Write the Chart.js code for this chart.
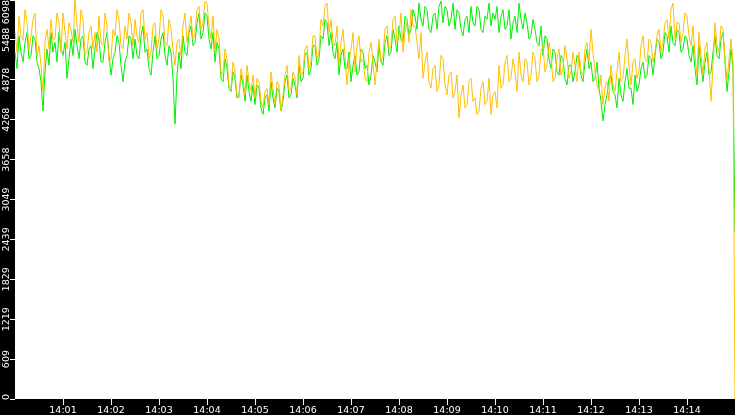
<!DOCTYPE html>
<html>
<head>
<meta charset="utf-8">
<script src="https://cdn.jsdelivr.net/npm/chart.js@4.4.1/dist/chart.umd.min.js"></script>
<style>
  html, body { margin: 0; padding: 0; background: #000; }
  #chart { display: block; background: #000; }
</style>
</head>
<body>
<canvas id="chart" width="735" height="415"></canvas>
<script>
// one sample every 2.5 seconds from 14:00:00, last one is the drop at the end
const orangeValues = [
  5620, 5300, 5850, 5550, 5480, 5950, 5760, 5350, 5550, 5800, 5900, 5250, 5400, 5100, 4700, 5450, 5650, 5350, 5800, 5500,
  5500, 5900, 5750, 5300, 5900, 5600, 5350, 5750, 5650, 5450, 6098, 5700, 5450, 5950, 5800, 5250, 5300, 5600, 5700, 5350,
  5600, 5300, 5850, 5450, 5400, 5900, 5700, 5150, 5200, 5650, 5550, 5950, 5800, 5400, 5350, 5700, 5500, 5900, 5750, 5400,
  5800, 5550, 5450, 5900, 5950, 5500, 5600, 5200, 5300, 5700, 5750, 5350, 5500, 5950, 5850, 5450, 5400, 5800, 5650, 5350,
  5100, 5450, 5500, 5250, 5700, 5900, 5450, 5650, 5850, 5500, 5600, 5950, 6000, 5650, 5750, 6080, 6050, 5700, 5500, 5850,
  5300, 5650, 5500, 5000, 4950, 5350, 5200, 4800, 4750, 5150, 5000, 4650, 4600, 5050, 4900, 4650, 5100, 4850, 4700, 4950,
  4600, 4900, 4850, 4550, 4450, 4700, 4750, 4500, 5000, 4750, 4500, 4850, 4800, 4400, 4650, 4950, 5100, 4700, 4750, 5000,
  4900, 4650, 5250, 4950, 5000, 5350, 5400, 5050, 5150, 5550, 5550, 5200, 5300, 5800, 5700, 6000, 6050, 5600, 5800, 5450,
  5400, 5700, 5100, 5450, 5650, 5250, 4800, 5150, 5350, 5600, 5000, 5400, 5550, 5150, 5200, 4900, 4850, 5300, 5450, 5150,
  4800, 5150, 5500, 5150, 5250, 5650, 5700, 5350, 5400, 5800, 5850, 5450, 5550, 5900, 5300, 5600, 5750, 5450, 5950, 5700,
  5700, 5450, 5200, 5600, 4900, 5150, 5300, 4850, 4750, 5050, 5100, 4700, 4800, 5250, 5200, 4800, 4650, 4950, 5000, 4600,
  4700, 4950, 4300, 4650, 4800, 4450, 4500, 4850, 4900, 4550, 4600, 4350, 4400, 4750, 4850, 4500, 4550, 4900, 4350, 4650,
  4700, 4450, 5100, 4750, 4800, 5150, 5250, 4850, 4900, 5200, 5000, 4700, 5300, 4950, 4850, 5200, 5150, 4800, 4950, 5300,
  5200, 4850, 4950, 5300, 5400, 5000, 5100, 5450, 5250, 4850, 4900, 5200, 5350, 4950, 5050, 5400, 5200, 4900, 5000, 5300,
  5100, 4850, 5300, 5000, 4950, 5350, 5450, 5150, 5650, 5300, 5000, 4800, 4700, 4950, 4500, 4750, 4850, 4550, 5100, 4800,
  4700, 5000, 5300, 4850, 4900, 5250, 5500, 5100, 4800, 5150, 5200, 4900, 5000, 5400, 5550, 5200, 5150, 5500, 5450, 5150,
  5300, 5550, 5650, 5300, 5450, 5750, 5800, 5500, 5950, 6050, 5500, 5750, 5750, 5450, 5600, 5900, 5850, 5550, 5400, 5700,
  5250, 4950, 5600, 5250, 4950, 5350, 5450, 5050, 4550, 5100, 5750, 5400, 5300, 5700, 5650, 5200, 4850, 5200, 5500, 5150,
  0
];
const greenValues = [
  5300, 5050, 5550, 5300, 5150, 5450, 5600, 5200, 5250, 5550, 5500, 5150, 5050, 4850, 4400, 5000, 5350, 5100, 5600, 5300,
  5450, 5150, 5600, 5350, 5250, 5450, 4900, 5200, 5500, 5250, 5650, 5400, 5200, 5500, 5550, 5150, 5100, 5350, 5400, 5050,
  5350, 5600, 5500, 5150, 5150, 5450, 5600, 5250, 4950, 5200, 5300, 5550, 5450, 5100, 4850, 5150, 5250, 5550, 5500, 5200,
  5500, 5250, 5200, 5550, 5700, 5300, 5350, 5050, 4950, 5300, 5550, 5200, 5250, 5500, 5600, 5250, 5100, 5400, 5300, 4900,
  4200, 4950, 5300, 5050, 5550, 5300, 5250, 5600, 5700, 5400, 5450, 5750, 5900, 5500, 5600, 5900, 5850, 5500, 5350, 5600,
  5150, 5450, 5350, 4900, 4850, 5200, 5050, 4750, 4700, 5000, 4900, 4600, 4650, 4950, 4800, 4550, 4950, 4700, 4550, 4800,
  4500, 4800, 4750, 4450, 4350, 4600, 4650, 4400, 4850, 4600, 4450, 4750, 4700, 4400, 4550, 4850, 4950, 4600, 4650, 4900,
  4800, 4600, 5100, 4850, 4900, 5250, 5300, 4950, 5050, 5400, 5400, 5100, 5200, 5550, 5500, 5800, 5750, 5400, 5600, 5300,
  5200, 5450, 4950, 5250, 5350, 5050, 5050, 5300, 4850, 5100, 5250, 4950, 5000, 5350, 5300, 5050, 5100, 4800, 4950, 5250,
  5150, 5000, 5400, 5150, 5100, 5450, 5550, 5250, 5300, 5650, 5500, 5300, 5700, 5500, 5450, 5850, 5800, 5550, 5650, 5950,
  5850, 5650, 6050, 5800, 5700, 6000, 5950, 5650, 5600, 5850, 5900, 5650, 6000, 6080, 5750, 6000, 5950, 5700, 5800, 6050,
  5650, 5950, 5900, 5650, 5550, 5800, 5850, 5600, 6000, 5750, 5700, 6000, 5950, 5650, 5600, 5850, 5800, 6050, 5700, 5900,
  5800, 6000, 5600, 5850, 5950, 5650, 5700, 5950, 5500, 5750, 5850, 5600, 6050, 5800, 5650, 5900, 5750, 5500, 5550, 5800,
  5650, 5450, 5400, 5700, 5250, 5550, 5500, 5200, 5050, 5350, 5300, 5000, 4950, 5250, 5200, 4900, 4800, 5100, 5100, 4850,
  5000, 5250, 5200, 4950, 4850, 5150, 5350, 5050, 5150, 4850, 4900, 5150, 4750, 4550, 4250, 4500, 4650, 4900, 4950, 4700,
  4650, 4450, 4900, 4650, 4550, 4850, 5050, 4750, 4750, 4500, 4950, 4700, 4800, 5050, 5150, 4900, 4950, 5250, 5200, 4950,
  5250, 5500, 5450, 5200, 5300, 5600, 5550, 5300, 5700, 5450, 5400, 5650, 5600, 5300, 5350, 5550, 5500, 5250, 5150, 5400,
  5050, 4800, 5400, 5100, 4850, 5150, 5300, 4950, 5000, 5300, 5550, 5250, 5200, 5500, 5600, 5150, 4700, 5000, 5350, 5050,
  2550
];
const yTickValues = [0, 609.8, 1219.6, 1829.4, 2439.2, 3049, 3658.8, 4268.6, 4878.4, 5488.2, 6098];
const yTickLabels = ['0', '609', '1219', '1829', '2439', '3049', '3658', '4268', '4878', '5488', '6098'];
const minuteLabels = ['14:01', '14:02', '14:03', '14:04', '14:05', '14:06', '14:07',
  '14:08', '14:09', '14:10', '14:11', '14:12', '14:13', '14:14'];

// time of each sample, hh:mm:ss.s
const sampleTimes = orangeValues.map((_, i) => {
  const s = i * 2.5;
  const mm = String(Math.floor(s / 60)).padStart(2, '0');
  const ss = (s % 60).toFixed(1).padStart(4, '0');
  return '14:' + mm + ':' + ss;
});
const samplesPerMinute = 24;

Chart.defaults.font.family = '"DejaVu Sans", sans-serif';

// white plot area on the black canvas, plus the rotated y labels
const framePlugin = {
  id: 'frame',
  beforeDraw(chart) {
    const { ctx, chartArea: a } = chart;
    ctx.save();
    ctx.fillStyle = '#ffffff';
    ctx.fillRect(a.left, a.top, a.right - a.left, a.bottom - a.top);
    ctx.restore();
  },
  afterDraw(chart) {
    const { ctx, chartArea: a } = chart;
    const yScale = chart.scales.y;
    ctx.save();
    ctx.fillStyle = '#ffffff';
    ctx.font = '9.5px "DejaVu Sans"';
    ctx.textAlign = 'center';
    ctx.textBaseline = 'alphabetic';
    yTickValues.forEach((v, i) => {
      const text = yTickLabels[i];
      const half = ctx.measureText(text).width / 2;
      let cy = yScale.getPixelForValue(v);
      cy = Math.min(Math.max(cy, half), a.bottom - half + 1);
      ctx.save();
      ctx.translate(9, cy);
      ctx.rotate(-Math.PI / 2);
      ctx.fillText(text, 0, 0);
      ctx.restore();
    });
    ctx.restore();
  }
};

const ctx = document.getElementById('chart').getContext('2d');
new Chart(ctx, {
  type: 'line',
  data: {
    labels: sampleTimes,
    datasets: [{
      label: 'orange',
      data: orangeValues,
      borderColor: '#ffbf00',
      borderWidth: 1,
      pointRadius: 0,
      tension: 0,
      fill: false
    }, {
      label: 'green',
      data: greenValues,
      borderColor: '#00ee00',
      borderWidth: 1,
      pointRadius: 0,
      tension: 0,
      fill: false
    }]
  },
  options: {
    responsive: false,
    animation: false,
    layout: { padding: 0 },
    plugins: {
      legend: { display: false },
      tooltip: { enabled: false }
    },
    scales: {
      x: {
        type: 'category',
        border: { display: false },
        grid: { drawOnChartArea: false, color: '#ffffff', tickLength: 6 },
        afterBuildTicks: (scale) => {
          scale.ticks = minuteLabels.map((_, i) => ({ value: (i + 1) * samplesPerMinute }));
        },
        afterFit: (scale) => { scale.height = 16; },
        ticks: {
          autoSkip: false,
          maxRotation: 0,
          padding: 0,
          color: '#ffffff',
          font: { size: 9.5 },
          callback: (value, index) => minuteLabels[index]
        }
      },
      y: {
        min: 0,
        max: 6098,
        border: { display: false },
        grid: { drawOnChartArea: false, color: '#ffffff', tickLength: 5 },
        afterBuildTicks: (scale) => {
          scale.ticks = yTickValues.map(v => ({ value: v }));
        },
        afterFit: (scale) => { scale.width = 15; },
        ticks: { display: false }
      }
    }
  },
  plugins: [framePlugin]
});
</script>
</body>
</html>
